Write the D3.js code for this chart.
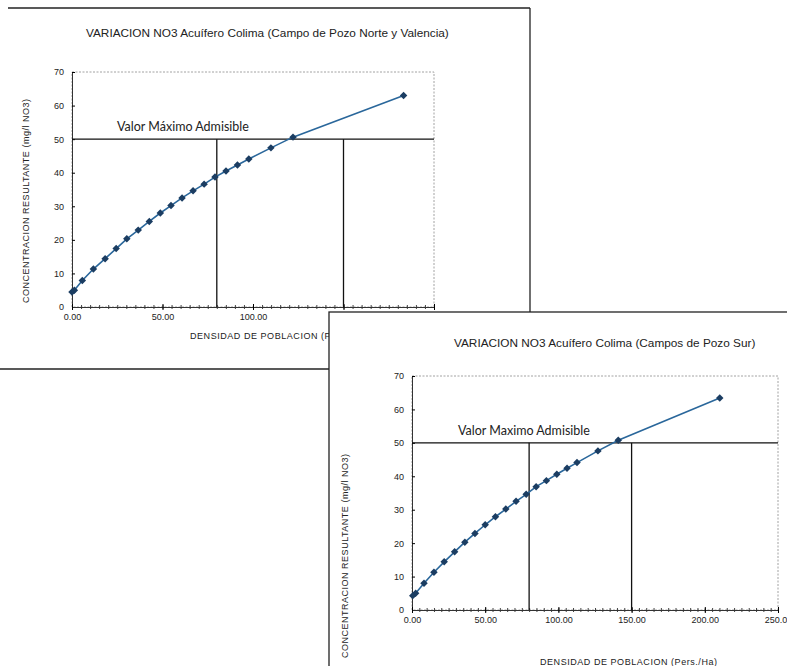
<!DOCTYPE html>
<html lang="es">
<head>
  <meta charset="UTF-8">
  <title>Variacion NO3 Acuifero Colima</title>
  <script src="https://d3js.org/d3.v7.min.js"></script>
  <style>
    body { margin: 0; background: white; }
    svg { display: block; font-family: "Liberation Sans", Arial, sans-serif; }
  </style>
</head>
<body>
  <div id="chart"></div>
  <script>
    // Campo de Pozo Norte y Valencia
    const densidadNorte = [0, 1.3, 5.7, 11.8, 18.3, 24.4, 30.3, 36.6, 42.7, 48.8, 54.7,
      60.8, 66.9, 73.0, 79.0, 85.1, 91.4, 97.7, 109.9, 122.1, 183.2];
    const concNorte = [4.5, 5.0, 7.9, 11.3, 14.4, 17.4, 20.3, 22.9, 25.5, 28.0, 30.2,
      32.5, 34.6, 36.6, 38.7, 40.5, 42.3, 44.1, 47.4, 50.6, 63.0];

    // Campos de Pozo Sur
    const densidadSur = [0.5, 2.5, 8.2, 15.0, 22.0, 29.1, 36.1, 43.0, 50.0, 57.0, 64.1,
      71.1, 78.0, 84.8, 91.8, 98.9, 105.9, 112.7, 127.0, 140.9, 210.2];
    const concSur = [4.3, 5.0, 8.0, 11.3, 14.4, 17.4, 20.3, 22.9, 25.5, 27.9, 30.2,
      32.5, 34.6, 36.9, 38.7, 40.6, 42.4, 44.1, 47.6, 50.8, 63.4];

    const valorMaximo = 50;          // mg/l NO3
    const densidadLimites = [80, 150]; // vertical reference lines
    const yTicks = [0, 10, 20, 30, 40, 50, 60, 70];

    const svg = d3.select("#chart").append("svg")
      .attr("width", 787)
      .attr("height", 666);

    svg.append("rect").attr("width", 787).attr("height", 666).attr("fill", "white");

    function drawChart(g, cfg) {
      const x = d3.scaleLinear().domain([0, cfg.xMax]).range([cfg.left, cfg.right]);
      const y = d3.scaleLinear().domain([0, 70]).range([cfg.bottom, cfg.top]);

      // plot area border (dashed grey)
      g.append("rect")
        .attr("x", cfg.left).attr("y", cfg.top)
        .attr("width", cfg.right - cfg.left).attr("height", cfg.bottom - cfg.top)
        .attr("fill", "none")
        .attr("stroke", "#8a8a8a")
        .attr("stroke-width", 0.8)
        .attr("stroke-dasharray", "2,1.5");

      // title
      g.append("text")
        .attr("x", cfg.titleX).attr("y", cfg.titleY)
        .attr("font-size", 11.8)
        .attr("fill", "#222")
        .text(cfg.title);

      // y axis
      const yAxis = g.append("g").attr("transform", `translate(${cfg.left},0)`)
        .call(d3.axisLeft(y).tickValues(yTicks).tickSizeInner(3).tickSizeOuter(0).tickPadding(5));
      yAxis.selectAll(".tick line").attr("x2", 3);
      yAxis.selectAll("text").attr("font-size", 9).attr("fill", "#222").attr("font-family", null);
      yAxis.select(".domain").attr("stroke", "#333");

      // x axis, minor ticks every 5 then major every 50
      const xMinor = g.append("g").attr("transform", `translate(0,${cfg.bottom})`)
        .call(d3.axisBottom(x).ticks(cfg.xMax / 5).tickSize(2).tickFormat(""));
      xMinor.selectAll(".tick line").attr("y1", -2).attr("stroke", "#444");
      xMinor.select(".domain").remove();

      const xAxis = g.append("g").attr("transform", `translate(0,${cfg.bottom})`)
        .call(d3.axisBottom(x).ticks(cfg.xMax / 50).tickFormat(d3.format(".2f"))
          .tickSizeInner(3).tickSizeOuter(0).tickPadding(4));
      xAxis.selectAll(".tick line").attr("y1", -3);
      xAxis.selectAll("text").attr("font-size", 9).attr("fill", "#222").attr("font-family", null);
      xAxis.select(".domain").attr("stroke", "#333");

      // axis titles
      g.append("text")
        .attr("x", cfg.xLabelX).attr("y", cfg.xLabelY)
        .attr("font-size", 9)
        .attr("fill", "#222")
        .attr("textLength", 177)
        .attr("lengthAdjust", "spacing")
        .text("DENSIDAD DE POBLACION  (Pers./Ha)");

      g.append("text")
        .attr("transform", `translate(${cfg.yLabelX},${cfg.yLabelY}) rotate(-90)`)
        .attr("text-anchor", "middle")
        .attr("font-size", 9)
        .attr("fill", "#222")
        .attr("textLength", 204)
        .attr("lengthAdjust", "spacing")
        .text("CONCENTRACION RESULTANTE  (mg/l NO3)");

      // maximum admissible value
      g.append("line")
        .attr("x1", cfg.left).attr("x2", cfg.right)
        .attr("y1", y(valorMaximo)).attr("y2", y(valorMaximo))
        .attr("stroke", "#111").attr("stroke-width", 1.3);

      g.selectAll("line.limite")
        .data(densidadLimites)
        .enter().append("line")
        .attr("class", "limite")
        .attr("x1", d => x(d)).attr("x2", d => x(d))
        .attr("y1", y(0)).attr("y2", y(valorMaximo))
        .attr("stroke", "#111").attr("stroke-width", 1.3);

      g.append("text")
        .attr("x", cfg.vmaX).attr("y", y(valorMaximo) - 8)
        .attr("font-family", "Lato, sans-serif")
        .attr("font-size", 12.5)
        .attr("fill", "#222")
        .text(cfg.vmaText);

      // series
      const pts = cfg.xs.map((d, i) => [d, cfg.ys[i]]);
      g.append("path")
        .datum(pts)
        .attr("fill", "none")
        .attr("stroke", "#2a679b")
        .attr("stroke-width", 1.6)
        .attr("d", d3.line().x(d => x(d[0])).y(d => y(d[1])));

      g.selectAll("path.punto")
        .data(pts)
        .enter().append("path")
        .attr("class", "punto")
        .attr("transform", d => `translate(${x(d[0])},${y(d[1])}) rotate(45)`)
        .attr("d", d3.symbol(d3.symbolSquare, 28))
        .attr("fill", "#1b3d62");
    }

    // chart 1 frame lines
    const g1 = svg.append("g");
    g1.append("line").attr("x1", 8).attr("x2", 530).attr("y1", 8).attr("y2", 8)
      .attr("stroke", "#222").attr("stroke-width", 1.3);
    g1.append("line").attr("x1", 530).attr("x2", 530).attr("y1", 8).attr("y2", 312)
      .attr("stroke", "#222").attr("stroke-width", 1.3);
    g1.append("line").attr("x1", 0).attr("x2", 329).attr("y1", 369).attr("y2", 369)
      .attr("stroke", "#222").attr("stroke-width", 1.3);

    drawChart(g1, {
      title: "VARIACION NO3  Acuífero Colima (Campo de Pozo Norte y Valencia)",
      titleX: 86, titleY: 37,
      xMax: 200, left: 72, right: 434, top: 72, bottom: 307,
      xs: densidadNorte, ys: concNorte,
      xLabelX: 190, xLabelY: 339,
      yLabelX: 29, yLabelY: 201,
      vmaX: 117, vmaText: "Valor Máximo Admisible"
    });

    // chart 2 sits on top of chart 1
    const g2 = svg.append("g");
    g2.append("rect")
      .attr("x", 329).attr("y", 312).attr("width", 470).attr("height", 370)
      .attr("fill", "white").attr("stroke", "#222").attr("stroke-width", 1.3);

    drawChart(g2, {
      title: "VARIACION NO3 Acuífero Colima (Campos de Pozo Sur)",
      titleX: 454, titleY: 347,
      xMax: 250, left: 412, right: 778, top: 376, bottom: 610,
      xs: densidadSur, ys: concSur,
      xLabelX: 540, xLabelY: 665,
      yLabelX: 348, yLabelY: 556,
      vmaX: 458, vmaText: "Valor Maximo Admisible"
    });
  </script>
</body>
</html>
